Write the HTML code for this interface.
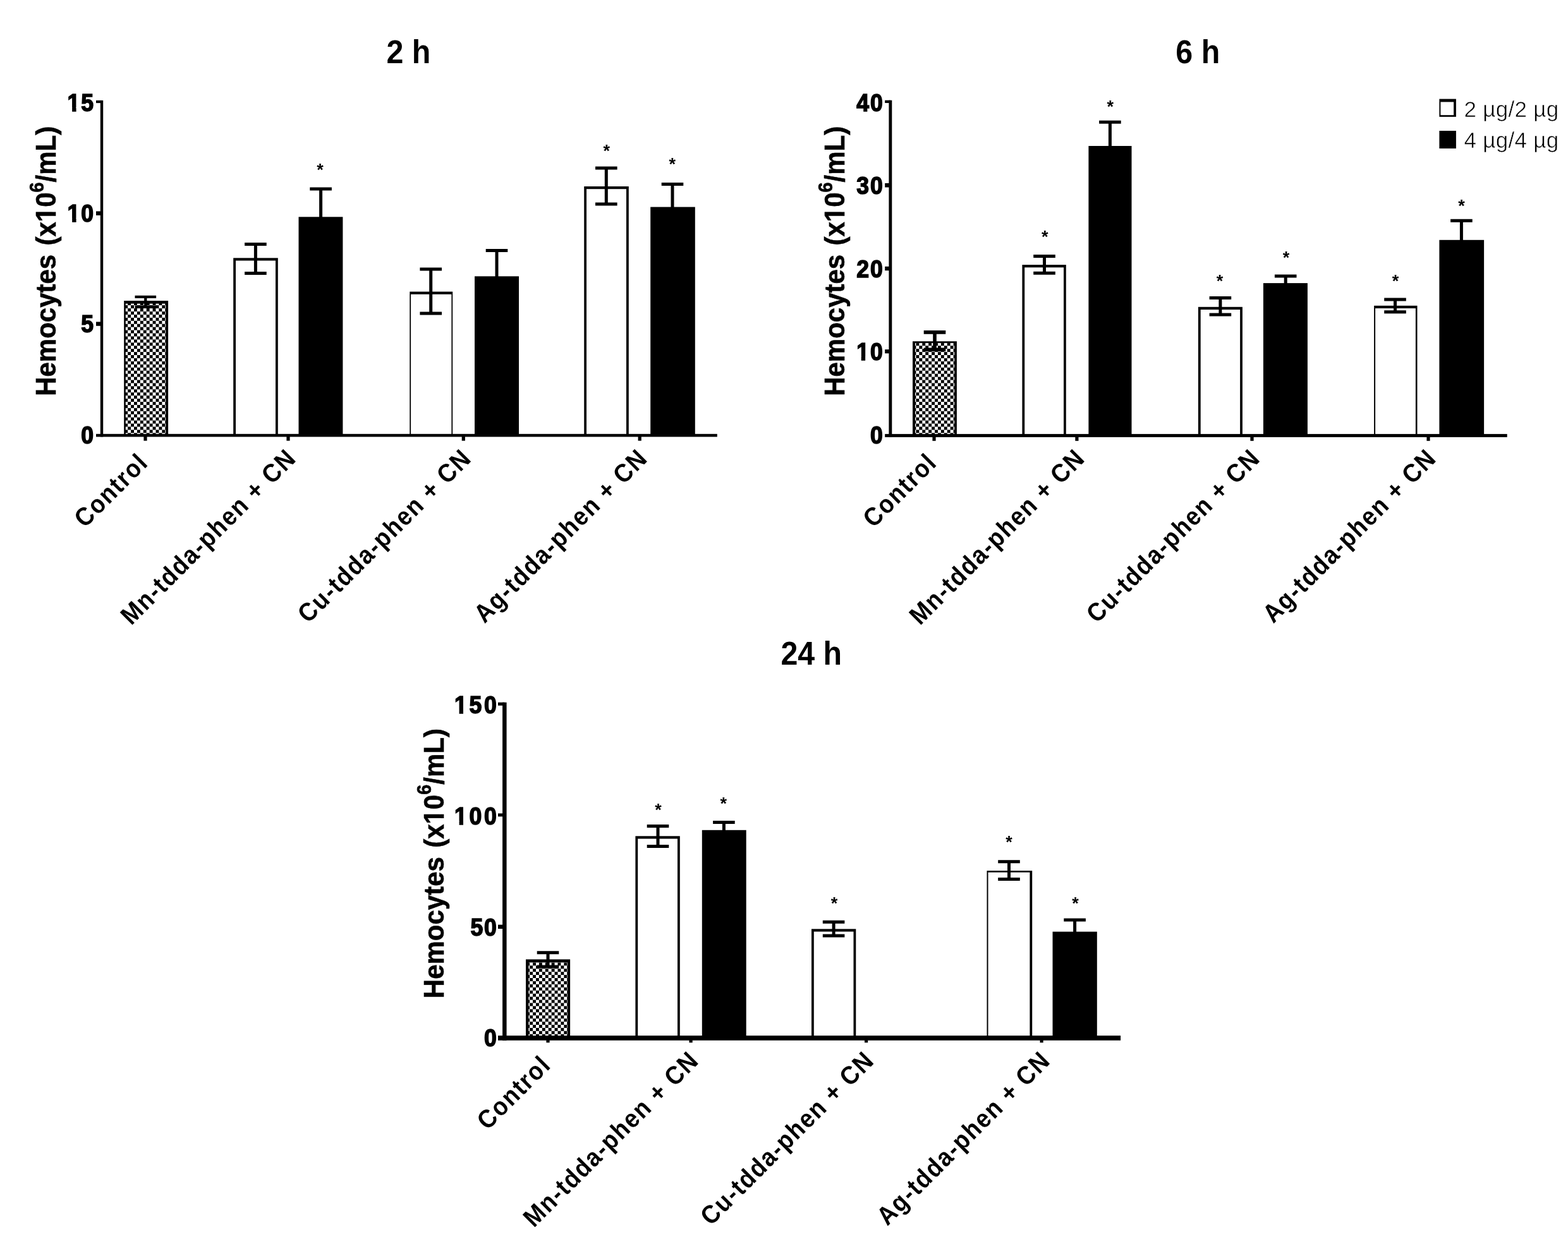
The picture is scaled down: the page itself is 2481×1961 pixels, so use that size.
<!DOCTYPE html>
<html lang="en">
<head>
<meta charset="utf-8">
<title>Hemocyte density at 2 h, 6 h and 24 h</title>
<style>
html,body{margin:0;padding:0;background:#fff}
body{width:2481px;height:1961px;overflow:hidden}
svg{display:block}
text{font-family:"Liberation Sans",Arial,Helvetica,sans-serif;fill:#000}
.t{font-size:50px;font-weight:700;text-anchor:middle}
.yl{font-size:42px;font-weight:700;text-anchor:middle;word-spacing:2.6px;stroke:#000;stroke-width:0.6px}
.sup{font-size:29px}
.yt{font-size:35.6px;font-weight:700;text-anchor:end;letter-spacing:1.9px;stroke:#000;stroke-width:1.5px}
.xl{font-size:37px;font-weight:700;text-anchor:end;letter-spacing:1.9px}
.s{font-size:27px;font-weight:700;text-anchor:middle}
.lg{font-size:35px;letter-spacing:0.3px;stroke:#fff;stroke-width:0.6px}
.e{stroke:#000;fill:none}
</style>
</head>
<body>
<svg width="2481" height="1961" viewBox="0 0 2481 1961">
<defs>
<pattern id="chk" width="9.86" height="9.86" patternUnits="userSpaceOnUse">
<rect width="9.86" height="9.86" fill="#fff"/>
<rect x="0" y="0" width="4.93" height="4.93" fill="#000"/>
<rect x="4.93" y="4.93" width="4.93" height="4.93" fill="#000"/>
</pattern>
<clipPath id="f2"><path clip-rule="evenodd" d="M-400 -80H400V40H-400ZM-42.67 -5.09H-35.85V1.82H-42.67ZM-29.48 -5.09H-23.12V1.82H-29.48Z"/></clipPath>
<clipPath id="f3"><path clip-rule="evenodd" d="M-400 -80H400V40H-400ZM-69.77 -5.09H-62.95V1.82H-69.77ZM-56.57 -5.09H-50.22V1.82H-56.57Z"/></clipPath>
<clipPath id="fy"><path clip-rule="evenodd" d="M-400 -80H400V40H-400ZM63.58 -5.42H71.56V1.56H63.58ZM77.92 -5.42H85.35V1.56H77.92Z"/></clipPath>
</defs>
<rect width="2481" height="1961" fill="#fff"/>
<g>
<text class="t" transform="translate(646.45 100.2) scale(0.967 1.053)">2 h</text>
<text class="yl" clip-path="url(#fy)" transform="translate(88.4 413.3) rotate(-90) scale(1 1.055)">Hemocytes (x10<tspan class="sup" dy="-18.6">6</tspan><tspan dy="18.6">/mL)</tspan></text>
<rect x="196.2" y="476" width="69.9" height="213.1"/>
<rect x="198.8" y="480.6" width="63.5" height="208.5" fill="url(#chk)"/>
<path d="M230.3 469.9V485.7M213.5 469.9H247.1M213.5 485.7H247.1" class="e" stroke-width="4.4"/>
<rect x="369.2" y="408.3" width="70.6" height="280.8"/>
<rect x="373" y="412.5" width="63" height="276.6" fill="#fff"/>
<path d="M404.4 386.6V432.6M387.1 386.6H421.7M387.1 432.6H421.7" class="e" stroke-width="5"/>
<rect x="472.5" y="343.3" width="69.9" height="345.8"/>
<path d="M507.6 299V344.3M490.3 299H524.9" class="e" stroke-width="5"/>
<text class="s" x="506.5" y="278.4">*</text>
<rect x="648.3" y="461.6" width="67.9" height="227.5"/>
<rect x="650.1" y="465.8" width="64.3" height="223.3" fill="#fff"/>
<path d="M681.7 426V496M664.4 426H699M664.4 496H699" class="e" stroke-width="5"/>
<rect x="751" y="437.3" width="70" height="251.8"/>
<path d="M786 396.6V438.3M768.7 396.6H803.3" class="e" stroke-width="5"/>
<rect x="924.2" y="295" width="70.6" height="394.1"/>
<rect x="928" y="299.2" width="63" height="389.9" fill="#fff"/>
<path d="M959.3 266V323M942 266H976.6M942 323H976.6" class="e" stroke-width="5"/>
<text class="s" x="959.8" y="247.7">*</text>
<rect x="1029.2" y="327.6" width="70.6" height="361.5"/>
<path d="M1064 291.6V328.6M1046.7 291.6H1081.3" class="e" stroke-width="5"/>
<text class="s" x="1063.8" y="269.3">*</text>
<rect x="158.8" y="158.9" width="4.4" height="532.5"/>
<rect x="152" y="686.8" width="982.8" height="4.6"/>
<rect x="152" y="158.9" width="9" height="4.2"/>
<text class="yt" clip-path="url(#f2)" transform="translate(150 175.54) scale(1 1.07)">15</text>
<rect x="152" y="334.4" width="9" height="6.4"/>
<text class="yt" clip-path="url(#f2)" transform="translate(150 350.94) scale(1 1.07)">10</text>
<rect x="152" y="509.4" width="9" height="6.4"/>
<text class="yt" transform="translate(150 526.04) scale(1 1.07)">5</text>
<text class="yt" transform="translate(150 701.74) scale(1 1.07)">0</text>
<rect x="227.4" y="689.1" width="5.2" height="8.5"/>
<text class="xl" transform="translate(236.6 734.4) rotate(-45) scale(1 1.1)">Control</text>
<rect x="453.4" y="689.1" width="5.2" height="8.5"/>
<text class="xl" transform="translate(470.9 727.5) rotate(-45) scale(1 1.1)">Mn-tdda-phen + CN</text>
<rect x="730.7" y="689.1" width="5.2" height="8.5"/>
<text class="xl" transform="translate(748.2 727.5) rotate(-45) scale(1 1.1)">Cu-tdda-phen + CN</text>
<rect x="1009.6" y="689.1" width="5.2" height="8.5"/>
<text class="xl" transform="translate(1027.1 727.5) rotate(-45) scale(1 1.1)">Ag-tdda-phen + CN</text>
</g>
<g>
<text class="t" transform="translate(1895.25 100.2) scale(0.967 1.053)">6 h</text>
<text class="yl" clip-path="url(#fy)" transform="translate(1336.4 413.3) rotate(-90) scale(1 1.055)">Hemocytes (x10<tspan class="sup" dy="-18.6">6</tspan><tspan dy="18.6">/mL)</tspan></text>
<rect x="1444" y="540.2" width="69.9" height="149.2"/>
<rect x="1448" y="542.8" width="62.1" height="146.6" fill="url(#chk)"/>
<path d="M1479 525.9V553.4M1461.7 525.9H1496.3M1461.7 553.4H1496.3" class="e" stroke-width="5.6"/>
<rect x="1617.4" y="419.1" width="69.4" height="270.3"/>
<rect x="1621.2" y="423.3" width="61.8" height="266.1" fill="#fff"/>
<path d="M1652.5 405.4V432.2M1635.2 405.4H1669.8M1635.2 432.2H1669.8" class="e" stroke-width="5"/>
<text class="s" x="1653.3" y="383.6">*</text>
<rect x="1722.4" y="231" width="68.1" height="458.4"/>
<path d="M1756.4 193.3V232M1739.1 193.3H1773.7" class="e" stroke-width="5"/>
<text class="s" x="1756.7" y="178.4">*</text>
<rect x="1895.9" y="485.8" width="70" height="203.6"/>
<rect x="1899.7" y="490" width="62.4" height="199.4" fill="#fff"/>
<path d="M1930.9 471.4V498.1M1913.6 471.4H1948.2M1913.6 498.1H1948.2" class="e" stroke-width="5"/>
<text class="s" x="1929.9" y="454.3">*</text>
<rect x="1998.9" y="448.1" width="70" height="241.3"/>
<path d="M2034.2 437.1V449.1M2016.9 437.1H2051.5" class="e" stroke-width="5"/>
<text class="s" x="2034.9" y="416.9">*</text>
<rect x="2174.1" y="483.8" width="68.4" height="205.6"/>
<rect x="2176.1" y="488" width="63.8" height="201.4" fill="#fff"/>
<path d="M2207.5 474.1V493.8M2190.2 474.1H2224.8M2190.2 493.8H2224.8" class="e" stroke-width="5"/>
<text class="s" x="2208.1" y="454.3">*</text>
<rect x="2277.4" y="379.8" width="70.7" height="309.6"/>
<path d="M2312.4 349.2V380.8M2295.1 349.2H2329.7" class="e" stroke-width="5"/>
<text class="s" x="2312.4" y="335.3">*</text>
<rect x="1406.4" y="158.7" width="4.9" height="533.2"/>
<rect x="1400.2" y="686.9" width="984.5" height="5"/>
<rect x="1400.2" y="158.7" width="8.65" height="4.3"/>
<text class="yt" transform="translate(1398.6 175.64) scale(1 1.07)">40</text>
<rect x="1400.2" y="289.9" width="8.65" height="6.6"/>
<text class="yt" transform="translate(1398.6 307.24) scale(1 1.07)">30</text>
<rect x="1400.2" y="421.8" width="8.65" height="6.4"/>
<text class="yt" transform="translate(1398.6 438.64) scale(1 1.07)">20</text>
<rect x="1400.2" y="553.1" width="8.65" height="6.2"/>
<text class="yt" clip-path="url(#f2)" transform="translate(1398.6 570.24) scale(1 1.07)">10</text>
<text class="yt" transform="translate(1398.6 701.74) scale(1 1.07)">0</text>
<rect x="1475.4" y="689.4" width="5.2" height="8.4"/>
<text class="xl" transform="translate(1484.6 734.4) rotate(-45) scale(1 1.1)">Control</text>
<rect x="1701.3" y="689.4" width="5.2" height="8.4"/>
<text class="xl" transform="translate(1718.9 727.5) rotate(-45) scale(1 1.1)">Mn-tdda-phen + CN</text>
<rect x="1978.4" y="689.4" width="5.2" height="8.4"/>
<text class="xl" transform="translate(1996.2 727.5) rotate(-45) scale(1 1.1)">Cu-tdda-phen + CN</text>
<rect x="2257.4" y="689.4" width="5.2" height="8.4"/>
<text class="xl" transform="translate(2275.1 727.5) rotate(-45) scale(1 1.1)">Ag-tdda-phen + CN</text>
</g>
<g>
<text class="t" transform="translate(1283.75 1051.9) scale(0.967 1.053)">24 h</text>
<text class="yl" clip-path="url(#fy)" transform="translate(702 1366.6) rotate(-90) scale(1 1.055)">Hemocytes (x10<tspan class="sup" dy="-18.6">6</tspan><tspan dy="18.6">/mL)</tspan></text>
<rect x="832" y="1518.4" width="70.1" height="124.5"/>
<rect x="836.4" y="1523" width="61.5" height="119.9" fill="url(#chk)"/>
<path d="M867 1507.7V1530M849.7 1507.7H884.3M849.7 1530H884.3" class="e" stroke-width="5"/>
<rect x="1005.4" y="1323.3" width="70.4" height="319.6"/>
<rect x="1009.2" y="1327.5" width="62.8" height="315.4" fill="#fff"/>
<path d="M1041 1307.6V1339.5M1023.7 1307.6H1058.3M1023.7 1339.5H1058.3" class="e" stroke-width="5"/>
<text class="s" x="1041.4" y="1290.8">*</text>
<rect x="1110.8" y="1313.8" width="69.9" height="329.1"/>
<path d="M1145.4 1301.5V1314.8M1128.1 1301.5H1162.7" class="e" stroke-width="5"/>
<text class="s" x="1144.7" y="1281">*</text>
<rect x="1284" y="1470.3" width="70.3" height="172.6"/>
<rect x="1287.8" y="1474.5" width="62.7" height="168.4" fill="#fff"/>
<path d="M1319.1 1459.3V1481M1301.8 1459.3H1336.4M1301.8 1481H1336.4" class="e" stroke-width="5"/>
<text class="s" x="1319.9" y="1439.2">*</text>
<rect x="1561.5" y="1378.1" width="71.7" height="264.8"/>
<rect x="1563.5" y="1380.7" width="65.9" height="262.2" fill="#fff"/>
<path d="M1596.5 1363.8V1391.5M1579.2 1363.8H1613.8M1579.2 1391.5H1613.8" class="e" stroke-width="5"/>
<text class="s" x="1596.5" y="1342">*</text>
<rect x="1665.5" y="1474.6" width="70.3" height="168.3"/>
<path d="M1700.6 1456V1475.6M1683.3 1456H1717.9" class="e" stroke-width="5"/>
<text class="s" x="1701.4" y="1438.8">*</text>
<rect x="795.05" y="1111.7" width="6.5" height="535"/>
<rect x="788" y="1639.1" width="985.1" height="7.6"/>
<rect x="788" y="1111.7" width="10.3" height="5"/>
<text class="yt" style="letter-spacing:3.7px" clip-path="url(#f3)" transform="translate(789.6 1129.44) scale(1 1.07)">150</text>
<rect x="788" y="1287.4" width="10.3" height="5"/>
<text class="yt" style="letter-spacing:3.7px" clip-path="url(#f3)" transform="translate(789.6 1304.94) scale(1 1.07)">100</text>
<rect x="788" y="1463.6" width="10.3" height="6.4"/>
<text class="yt" transform="translate(787.8 1480.64) scale(1 1.07)">50</text>
<text class="yt" transform="translate(787.8 1656.24) scale(1 1.07)">0</text>
<rect x="864.4" y="1642.9" width="5.2" height="7.3"/>
<text class="xl" transform="translate(873.8 1687.7) rotate(-45) scale(1 1.1)">Control</text>
<rect x="1090.5" y="1642.9" width="5.2" height="7.3"/>
<text class="xl" transform="translate(1108.1 1680.8) rotate(-45) scale(1 1.1)">Mn-tdda-phen + CN</text>
<rect x="1368" y="1642.9" width="5.2" height="7.3"/>
<text class="xl" transform="translate(1385.4 1680.8) rotate(-45) scale(1 1.1)">Cu-tdda-phen + CN</text>
<rect x="1645.5" y="1642.9" width="5.2" height="7.3"/>
<text class="xl" transform="translate(1664.3 1680.8) rotate(-45) scale(1 1.1)">Ag-tdda-phen + CN</text>
</g>
<g>
<rect x="2277.4" y="156.6" width="26.5" height="28.3"/>
<rect x="2279.4" y="161.4" width="20.7" height="20.8" fill="#fff"/>
<rect x="2277.4" y="207" width="26.5" height="28"/>
<text class="lg" x="2316.4" y="184.5">2 µg/2 µg</text>
<text class="lg" x="2316.4" y="234.4">4 µg/4 µg</text>
</g>
</svg>
</body>
</html>
